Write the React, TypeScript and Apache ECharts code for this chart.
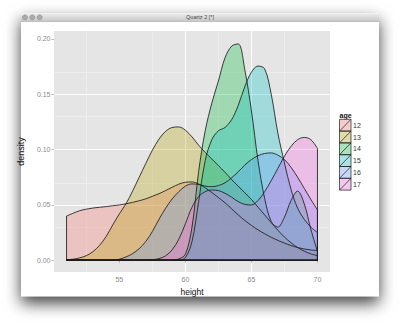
import React, { useEffect, useRef } from "react";
import * as echarts from "echarts";

const ages = ["12", "13", "14", "15", "16", "17"];
const colors = ["#F8766D", "#B79F00", "#00BA38", "#00BFC4", "#619CFF", "#F564E3"];

const heights = [51, 51.5, 52, 52.5, 53, 53.5, 54, 54.5, 55, 55.5, 56, 56.5, 57, 57.5, 58, 58.5, 59, 59.5, 60, 60.5,
  61, 61.5, 62, 62.5, 63, 63.5, 64, 64.5, 65, 65.5, 66, 66.5, 67, 67.5, 68, 68.5, 69, 69.5, 70];

const age12 = [0.0400, 0.0425, 0.0448, 0.0462, 0.0472, 0.0479, 0.0485, 0.0493, 0.0500, 0.0510,
  0.0523, 0.0538, 0.0555, 0.0578, 0.0602, 0.0630, 0.0660, 0.0688, 0.0705, 0.0708,
  0.0690, 0.0655, 0.0612, 0.0567, 0.0520, 0.0465, 0.0410, 0.0360, 0.0315, 0.0275,
  0.0240, 0.0208, 0.0180, 0.0155, 0.0133, 0.0115, 0.0102, 0.0093, 0.0088];
const age13 = [0.0005, 0.0010, 0.0022, 0.0042, 0.0078, 0.0135, 0.0215, 0.0320, 0.0420, 0.0510,
  0.0625, 0.0750, 0.0875, 0.0995, 0.1095, 0.1165, 0.1200, 0.1205, 0.1175, 0.1115,
  0.1040, 0.0975, 0.0915, 0.0855, 0.0795, 0.0730, 0.0670, 0.0610, 0.0550, 0.0480,
  0.0410, 0.0340, 0.0272, 0.0210, 0.0158, 0.0115, 0.0082, 0.0058, 0.0042];
const age14 = [0, 0, 0, 0, 0, 0, 0, 0, 0, 0,
  0, 0, 0, 0, 0, 0, 0.0003, 0.0012, 0.0055, 0.0300,
  0.0800, 0.1170, 0.1420, 0.1620, 0.1830, 0.1935, 0.1955, 0.1720, 0.1350, 0.0900,
  0.0560, 0.0350, 0.0300, 0.0390, 0.0540, 0.0625, 0.0510, 0.0280, 0.0080];
const age15 = [0, 0, 0, 0, 0, 0, 0, 0, 0, 0,
  0, 0, 0, 0, 0, 0, 0, 0, 0.0025, 0.0170,
  0.0530, 0.0900, 0.1090, 0.1170, 0.1200, 0.1270, 0.1400, 0.1570, 0.1700, 0.1755,
  0.1730, 0.1500, 0.1150, 0.0880, 0.0640, 0.0470, 0.0370, 0.0300, 0.0250];
const age16 = [0, 0, 0, 0, 0, 0, 0, 0, 0.0010, 0.0030,
  0.0060, 0.0105, 0.0170, 0.0260, 0.0370, 0.0470, 0.0555, 0.0620, 0.0670, 0.0690,
  0.0685, 0.0670, 0.0665, 0.0675, 0.0700, 0.0745, 0.0800, 0.0860, 0.0910, 0.0945,
  0.0965, 0.0970, 0.0950, 0.0910, 0.0840, 0.0750, 0.0650, 0.0550, 0.0455];
const age17 = [0, 0, 0, 0, 0, 0, 0, 0, 0, 0,
  0, 0, 0, 0.0005, 0.0015, 0.0040, 0.0095, 0.0190, 0.0330, 0.0480,
  0.0575, 0.0620, 0.0635, 0.0630, 0.0605, 0.0570, 0.0530, 0.0505, 0.0500, 0.0540,
  0.0620, 0.0720, 0.0830, 0.0940, 0.1030, 0.1090, 0.1110, 0.1090, 0.1010];

const densities = [age12, age13, age14, age15, age16, age17];

const xTicks = [55, 60, 65, 70];
const yTicks = [0, 0.05, 0.1, 0.15, 0.2];
const xMinor = [52.5, 57.5, 62.5, 67.5];
const yMinor = [0.025, 0.075, 0.125, 0.175];

const FONT = "'Liberation Sans', Arial, Helvetica, sans-serif";

function rgba(hex: string, a: number) {
  const r = parseInt(hex.slice(1, 3), 16);
  const g = parseInt(hex.slice(3, 5), 16);
  const b = parseInt(hex.slice(5, 7), 16);
  return `rgba(${r},${g},${b},${a})`;
}

function buildOption() {
  const outline = { color: "#1c1c1c", width: 0.85 };
  const series: any[] = [
    {
      type: "line",
      data: [],
      silent: true,
      z: 1,
      markLine: {
        silent: true,
        z: 1,
        symbol: "none",
        label: { show: false },
        lineStyle: { color: "#F2F2F2", width: 0.6, type: "solid" },
        emphasis: { disabled: true },
        data: [...xMinor.map((v) => ({ xAxis: v })), ...yMinor.map((v) => ({ yAxis: v }))],
      },
    },
  ];
  const last = heights.length - 1;
  ages.forEach((a, i) => {
    const vals = densities[i];
    series.push({
      type: "line",
      name: a,
      data: heights.map((h, j) => [h, vals[j]]),
      smooth: 0.35,
      symbol: "none",
      silent: true,
      z: 2,
      lineStyle: outline,
      areaStyle: { color: rgba(colors[i], 0.3), opacity: 1 },
    });
    series.push({
      type: "line",
      data: [
        [heights[0], vals[0]],
        [heights[0], 0],
        [heights[last], 0],
        [heights[last], vals[last]],
      ],
      symbol: "none",
      silent: true,
      z: 2,
      lineStyle: outline,
    });
  });

  const graphics: any[] = [
    {
      type: "rect",
      z: -10,
      shape: { x: 21, y: 13.3, width: 358, height: 283 },
      style: { fill: "#ffffff", shadowBlur: 16, shadowColor: "rgba(0,0,0,0.75)", shadowOffsetY: 7 },
      silent: true,
    },
    {
      type: "rect",
      z: -9,
      shape: { x: 21, y: 13.3, width: 358, height: 8.2 },
      style: {
        fill: {
          type: "linear", x: 0, y: 0, x2: 0, y2: 1,
          colorStops: [{ offset: 0, color: "#EEEEEE" }, { offset: 1, color: "#C6C6C6" }],
        },
      },
      silent: true,
    },
    {
      type: "line",
      z: -9,
      shape: { x1: 21, y1: 21.5, x2: 379, y2: 21.5 },
      style: { stroke: "#9c9c9c", lineWidth: 0.5 },
      silent: true,
    },
    {
      type: "text",
      z: -8,
      x: 200,
      y: 17.4,
      style: { text: "Quartz 2 [*]", fontSize: 5.5, fill: "#444", align: "center", verticalAlign: "middle", fontFamily: FONT },
      silent: true,
    },
    ...[25, 32.3, 39.6].map((cx) => ({
      type: "circle",
      z: -8,
      shape: { cx, cy: 17.3, r: 2.5 },
      style: { fill: "#ababab", stroke: "#7f7f7f", lineWidth: 0.5 },
      silent: true,
    })),
    {
      type: "text",
      z: 10,
      x: 339.5,
      y: 115.2,
      style: { text: "age", fontSize: 7, fontWeight: "bold", fill: "#111", verticalAlign: "middle", fontFamily: FONT },
      silent: true,
    },
  ];
  const kx = 339.5, ky = 119.3, kw = 11.5, kh = 11.8;
  ages.forEach((a, i) => {
    const y = ky + i * kh;
    graphics.push({
      type: "rect", z: 10, shape: { x: kx, y, width: kw, height: kh },
      style: { fill: "#F2F2F2", stroke: "none" }, silent: true,
    });
    graphics.push({
      type: "rect", z: 11, shape: { x: kx, y, width: kw, height: kh },
      style: { fill: rgba(colors[i], 0.3), stroke: "#1c1c1c", lineWidth: 0.7 }, silent: true,
    });
    graphics.push({
      type: "line", z: 12, shape: { x1: kx, y1: y + kh, x2: kx + kw, y2: y },
      style: { stroke: "#1c1c1c", lineWidth: 0.7 }, silent: true,
    });
    graphics.push({
      type: "text", z: 12, x: kx + kw + 2, y: y + kh / 2,
      style: { text: a, fontSize: 7, fill: "#333", verticalAlign: "middle", fontFamily: FONT }, silent: true,
    });
  });

  return {
    animation: false,
    backgroundColor: "#ffffff",
    grid: { left: 54, top: 31, width: 276, height: 241, show: true, backgroundColor: "#E5E5E5", borderWidth: 0, containLabel: false },
    xAxis: {
      type: "value",
      min: 50.05,
      max: 70.95,
      splitNumber: 4,
      name: "height",
      nameLocation: "middle",
      nameGap: 10,
      nameTextStyle: { fontSize: 8.5, color: "#111", fontFamily: FONT, verticalAlign: "top" },
      axisLine: { show: false },
      axisTick: { show: true, length: 2.5, customValues: xTicks, lineStyle: { color: "#8a8a8a", width: 0.6 } },
      axisLabel: { customValues: xTicks, fontSize: 7, color: "#8a8a8a", margin: 3.5, fontFamily: FONT, formatter: (v: number) => String(v) },
      splitLine: { show: true, showMinLine: false, showMaxLine: false, lineStyle: { color: "#ffffff", width: 1 } },
    },
    yAxis: {
      type: "value",
      min: -0.0106,
      max: 0.2072,
      splitNumber: 4,
      name: "density",
      nameLocation: "middle",
      nameRotate: 90,
      nameGap: 18,
      nameTextStyle: { fontSize: 9, color: "#111", fontFamily: FONT },
      axisLine: { show: false },
      axisTick: { show: true, length: 2.5, customValues: yTicks, lineStyle: { color: "#8a8a8a", width: 0.6 } },
      axisLabel: { customValues: yTicks, fontSize: 7, color: "#8a8a8a", margin: 3.5, fontFamily: FONT, formatter: (v: number) => v.toFixed(2) },
      splitLine: { show: true, showMinLine: false, showMaxLine: false, lineStyle: { color: "#ffffff", width: 1 } },
    },
    series,
    graphic: { elements: graphics },
  };
}

export default function App() {
  const ref = useRef<HTMLDivElement>(null);
  useEffect(() => {
    const chart = echarts.init(ref.current!, null, { renderer: "svg" });
    chart.setOption(buildOption() as any);
    return () => chart.dispose();
  }, []);
  return <div ref={ref} style={{ position: "fixed", left: 0, top: 0, width: 400, height: 326 }} />;
}
